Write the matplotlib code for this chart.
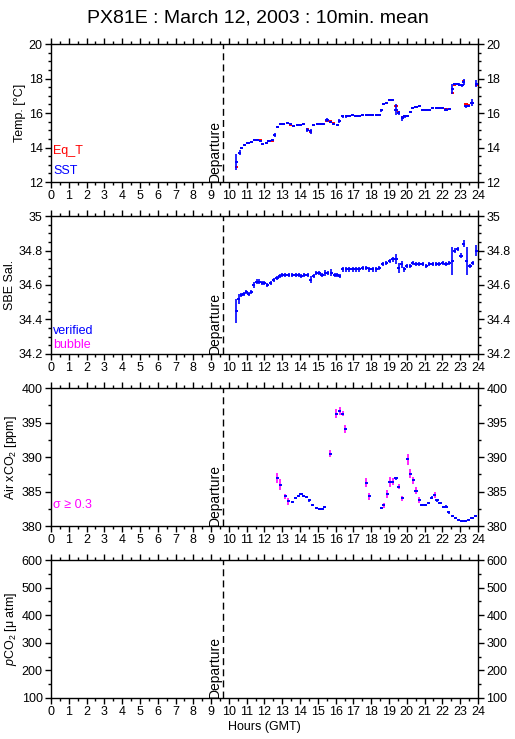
import numpy as np
import matplotlib
matplotlib.use("Agg")
import matplotlib.pyplot as plt
from matplotlib.ticker import MultipleLocator, FuncFormatter

plt.rcParams['font.family'] = ['Liberation Sans', 'DejaVu Sans']
plt.rcParams['mathtext.fontset'] = 'custom'
plt.rcParams['mathtext.rm'] = 'Liberation Sans'
plt.rcParams['mathtext.it'] = 'Liberation Sans:italic'

## data
departure = 9.65

temp_hours = [10.41, 10.60, 10.73, 10.88, 11.07, 11.25, 11.44, 11.63, 11.76, 11.91,
              12.10, 12.25, 12.43, 12.57, 12.72, 12.90, 13.09, 13.28, 13.46, 13.65,
              13.84, 14.00, 14.20, 14.40, 14.59, 14.77, 14.96, 15.15, 15.34, 15.52,
              15.71, 15.90, 16.09, 16.20, 16.40, 16.60, 16.78, 16.97, 17.15, 17.34,
              17.53, 17.72, 17.90, 18.09, 18.28, 18.46, 18.56, 18.71, 18.84, 19.03,
              19.21, 19.40, 19.55, 19.74, 19.90, 20.06, 20.20, 20.34, 20.52, 20.71,
              20.90, 21.08, 21.27, 21.46, 21.65, 21.84, 22.02, 22.20, 22.40, 22.55,
              22.68, 22.83, 22.96, 23.10, 23.20, 23.33, 23.48, 23.67, 23.90]
sst = [13.15, 13.70, 13.95, 14.15, 14.25, 14.30, 14.45, 14.45, 14.40, 14.20,
       14.25, 14.40, 14.45, 14.75, 15.20, 15.35, 15.35, 15.40, 15.35, 15.25,
       15.30, 15.30, 15.35, 15.00, 14.95, 15.30, 15.35, 15.35, 15.35, 15.60,
       15.50, 15.35, 15.30, 15.55, 15.80, 15.80, 15.85, 15.90, 15.85, 15.85,
       15.90, 15.90, 15.90, 15.90, 15.90, 15.90, 16.15, 16.50, 16.60, 16.75,
       16.75, 16.20, 16.00, 15.70, 15.80, 15.80, 16.05, 16.30, 16.35, 16.40,
       16.20, 16.15, 16.20, 16.30, 16.30, 16.30, 16.30, 16.20, 16.25, 17.40,
       17.70, 17.70, 17.65, 17.60, 17.80, 16.40, 16.40, 16.60, 17.70]
sst_err = [0.45, 0.15, 0.06, 0.04, 0.04, 0.04, 0.04, 0.04, 0.04, 0.08,
           0.05, 0.04, 0.04, 0.12, 0.06, 0.04, 0.04, 0.04, 0.04, 0.04,
           0.04, 0.04, 0.04, 0.12, 0.15, 0.04, 0.04, 0.04, 0.04, 0.10,
           0.06, 0.04, 0.04, 0.10, 0.06, 0.06, 0.04, 0.04, 0.04, 0.04,
           0.04, 0.04, 0.04, 0.04, 0.04, 0.04, 0.10, 0.04, 0.04, 0.04,
           0.04, 0.30, 0.12, 0.15, 0.06, 0.04, 0.06, 0.04, 0.04, 0.04,
           0.04, 0.04, 0.04, 0.04, 0.04, 0.04, 0.04, 0.08, 0.04, 0.30,
           0.06, 0.04, 0.08, 0.10, 0.20, 0.08, 0.06, 0.20, 0.20]
eq_t = [12.85, 13.70, 13.95, 14.15, 14.25, 14.30, 14.45, 14.45, 14.45, 14.20,
        14.25, 14.40, 14.40, 14.70, 15.20, 15.35, 15.35, 15.40, 15.30, 15.25,
        15.30, 15.30, 15.35, 15.05, 14.90, 15.30, 15.35, 15.35, 15.35, 15.55,
        15.55, 15.40, 15.30, 15.55, 15.80, 15.80, 15.85, 15.90, 15.85, 15.85,
        15.90, 15.90, 15.90, 15.90, 15.90, 15.90, 16.15, 16.50, 16.60, 16.75,
        16.75, 16.40, 16.05, 15.75, 15.80, 15.80, 16.05, 16.30, 16.35, 16.40,
        16.20, 16.15, 16.20, 16.30, 16.30, 16.30, 16.30, 16.25, 16.25, 17.15,
        17.65, 17.70, 17.60, 17.65, 17.85, 16.50, 16.45, 16.60, 17.65]

sal_hours = [10.41, 10.56, 10.69, 10.84, 10.97, 11.12, 11.25, 11.39, 11.57, 11.72,
             11.87, 12.00, 12.15, 12.34, 12.53, 12.70, 12.85, 13.00, 13.18, 13.37,
             13.56, 13.75, 13.93, 14.08, 14.25, 14.44, 14.59, 14.76, 14.91, 15.09,
             15.24, 15.43, 15.56, 15.75, 15.94, 16.09, 16.22, 16.40, 16.59, 16.78,
             16.97, 17.15, 17.34, 17.53, 17.72, 17.90, 18.09, 18.28, 18.46, 18.65,
             18.84, 19.03, 19.21, 19.40, 19.55, 19.72, 19.87, 20.00, 20.19, 20.34,
             20.52, 20.71, 20.90, 21.09, 21.27, 21.46, 21.65, 21.84, 22.02, 22.21,
             22.40, 22.55, 22.70, 22.87, 23.05, 23.20, 23.37, 23.56, 23.71, 23.90]
sal = [34.45, 34.52, 34.54, 34.55, 34.56, 34.55, 34.56, 34.60, 34.62, 34.62,
       34.61, 34.61, 34.60, 34.61, 34.63, 34.64, 34.65, 34.66, 34.66, 34.66,
       34.66, 34.66, 34.66, 34.65, 34.66, 34.66, 34.63, 34.65, 34.67, 34.67,
       34.66, 34.67, 34.67, 34.67, 34.66, 34.66, 34.65, 34.69, 34.69, 34.69,
       34.69, 34.69, 34.69, 34.70, 34.70, 34.69, 34.69, 34.69, 34.70, 34.72,
       34.73, 34.74, 34.75, 34.75, 34.70, 34.72, 34.69, 34.71, 34.71, 34.73,
       34.72, 34.72, 34.72, 34.71, 34.72, 34.72, 34.72, 34.72, 34.73, 34.72,
       34.73, 34.74, 34.80, 34.81, 34.77, 34.84, 34.74, 34.71, 34.73, 34.80]
sal_err = [0.07, 0.03, 0.012, 0.012, 0.012, 0.012, 0.012, 0.015, 0.012, 0.012,
           0.012, 0.012, 0.012, 0.012, 0.012, 0.012, 0.012, 0.012, 0.012, 0.012,
           0.012, 0.012, 0.012, 0.012, 0.012, 0.012, 0.02, 0.012, 0.012, 0.012,
           0.012, 0.015, 0.012, 0.02, 0.012, 0.012, 0.012, 0.015, 0.012, 0.012,
           0.012, 0.012, 0.012, 0.012, 0.012, 0.012, 0.012, 0.012, 0.012, 0.012,
           0.012, 0.012, 0.015, 0.03, 0.03, 0.02, 0.012, 0.012, 0.012, 0.012,
           0.012, 0.012, 0.012, 0.012, 0.012, 0.012, 0.012, 0.012, 0.012, 0.012,
           0.012, 0.08, 0.012, 0.012, 0.015, 0.02, 0.08, 0.012, 0.012, 0.03]

co2_hours = [12.72, 12.88, 13.18, 13.35, 13.56, 13.75, 13.91, 14.06, 14.21, 14.38,
             14.53, 14.72, 14.91, 15.09, 15.24, 15.37, 15.71, 16.03, 16.22, 16.40,
             16.54, 17.72, 17.90, 18.56, 18.71, 18.90, 19.06, 19.21, 19.40, 19.55,
             19.74, 20.06, 20.21, 20.37, 20.52, 20.71, 20.86, 21.05, 21.24, 21.40,
             21.57, 21.70, 21.87, 22.06, 22.21, 22.36, 22.55, 22.73, 22.92, 23.11,
             23.30, 23.48, 23.67, 23.86]
co2 = [387.0, 386.0, 384.3, 383.6, 383.5, 384.1, 384.3, 384.6, 384.4, 384.2,
       383.7, 383.1, 382.6, 382.4, 382.4, 382.7, 390.5, 396.3, 396.7, 396.3,
       394.1, 386.3, 384.3, 382.6, 383.0, 384.6, 386.4, 386.4, 386.9, 385.7,
       384.0, 389.7, 387.6, 386.6, 385.1, 383.8, 383.1, 383.1, 383.3, 384.1,
       384.5, 383.7, 383.4, 382.8, 382.8, 382.0, 381.4, 381.2, 380.9, 380.7,
       380.7, 380.9, 381.1, 381.4]
co2_sigma = [0.7, 0.8, 0.4, 0.5, 0.15, 0.15, 0.15, 0.15, 0.15, 0.15,
             0.15, 0.15, 0.15, 0.15, 0.15, 0.15, 0.5, 0.6, 0.6, 0.4,
             0.6, 0.6, 0.5, 0.15, 0.35, 0.6, 0.7, 0.5, 0.2, 0.4,
             0.35, 0.8, 0.6, 0.5, 0.5, 0.4, 0.15, 0.15, 0.15, 0.2,
             0.5, 0.15, 0.15, 0.15, 0.2, 0.2, 0.15, 0.15, 0.15, 0.15,
             0.15, 0.15, 0.15, 0.15]

half = 0.09  # half width of the 10 min dash, hours


def crosses(ax, x, y, err, hcol, vcol):
    x = np.asarray(x); y = np.asarray(y); err = np.asarray(err)
    ax.vlines(x, y - err, y + err, colors=vcol, lw=1.2, zorder=3)
    ax.hlines(y, x - half, x + half, colors=hcol, lw=1.4, zorder=3)


def frame(ax, ylim, major, minor, ylabel):
    ax.set_xlim(0, 24)
    ax.set_ylim(*ylim)
    ax.xaxis.set_major_locator(MultipleLocator(1))
    ax.xaxis.set_minor_locator(MultipleLocator(0.5))
    ax.yaxis.set_major_locator(MultipleLocator(major))
    ax.yaxis.set_minor_locator(MultipleLocator(minor))
    ax.yaxis.set_major_formatter(FuncFormatter(lambda v, p: "%g" % round(v, 3)))
    ax.tick_params(which='both', direction='out', top=True, right=True,
                   labelright=True, labelsize=9, width=1, pad=2)
    ax.tick_params(which='major', length=4)
    ax.tick_params(which='minor', length=2.5)
    ax.set_ylabel(ylabel, fontsize=9, labelpad=2)
    ax.axvline(departure, color='black', ls=(0, (5, 3)), lw=1)
    ax.text(departure - 0.05, ylim[0], "Departure", rotation=90,
            ha='right', va='bottom', fontsize=10)
    for s in ax.spines.values():
        s.set_linewidth(1)


fig = plt.figure(figsize=(5.15, 7.39), dpi=100)
left, width, height = 0.099, 0.829, 0.1867
bottoms = [0.7537, 0.521, 0.2882, 0.0555]
axes = [fig.add_axes([left, b, width, height]) for b in bottoms]

fig.text(0.5, 0.975, "PX81E : March 12, 2003 : 10min. mean",
         ha='center', va='center', fontsize=14)

## temperature
ax = axes[0]
frame(ax, (12, 20), 2, 0.5, "Temp. [°C]")
crosses(ax, temp_hours, eq_t, [0.04] * len(eq_t), 'red', 'red')
crosses(ax, temp_hours, sst, sst_err, 'blue', 'blue')
ax.text(0.005, 0.20, "Eq_T", color='red', transform=ax.transAxes, fontsize=9)
ax.text(0.005, 0.06, "SST", color='blue', transform=ax.transAxes, fontsize=9)

## salinity
ax = axes[1]
frame(ax, (34.2, 35), 0.2, 0.05, "SBE Sal.")
crosses(ax, sal_hours, sal, sal_err, 'blue', 'blue')
ax.text(0.005, 0.145, "verified", color='blue', transform=ax.transAxes, fontsize=9)
ax.text(0.005, 0.04, "bubble", color='magenta', transform=ax.transAxes, fontsize=9)

## air xCO2
ax = axes[2]
frame(ax, (380, 400), 5, 2.5, "Air xCO$_2$ [ppm]")
vcol = ['magenta' if s >= 0.3 else 'blue' for s in co2_sigma]
crosses(ax, co2_hours, co2, co2_sigma, 'blue', vcol)
ax.text(0.005, 0.13, "σ ≥ 0.3", color='magenta', transform=ax.transAxes, fontsize=9)

## pCO2 (empty)
ax = axes[3]
frame(ax, (100, 600), 100, 50, "$\\it{p}$CO$_2$ [μ atm]")
ax.set_xlabel("Hours (GMT)", fontsize=9, labelpad=2)

fig.savefig("out.png", dpi=100)
